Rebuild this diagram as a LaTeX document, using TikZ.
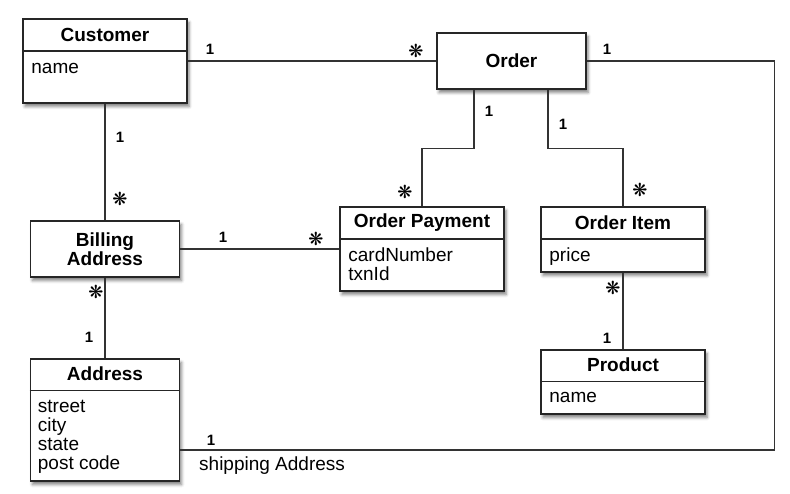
\documentclass[tikz,border=0pt]{standalone}
\usepackage{fontspec}
\setmainfont{Liberation Sans}
\newfontfamily\dingfont{DejaVu Sans}
\usetikzlibrary{shadows.blur}
\begin{document}
\begin{tikzpicture}[x=1pt,y=-1pt,line join=miter]
  \tikzstyle{classbox}=[draw=black!85,line width=1.6pt,fill=white,inner sep=0pt,
    blur shadow={shadow xshift=2pt,shadow yshift=-3.5pt,shadow blur radius=3pt,shadow opacity=50}]
  \tikzstyle{divider}=[draw=black!85,line width=1.4pt]
  \tikzstyle{title}=[font=\fontsize{19}{19}\selectfont\bfseries,align=center,inner sep=0pt]
  \tikzstyle{attr}=[font=\fontsize{19}{19}\selectfont,align=left,anchor=north west,inner sep=0pt,execute at begin node=\strut]
  \tikzstyle{link}=[draw=black!80,line width=1.3pt]
  \tikzstyle{one}=[font=\fontsize{15}{15}\selectfont\bfseries,inner sep=0pt]
  \tikzstyle{many}=[font=\dingfont\fontsize{18}{18}\selectfont,inner sep=0pt]
  \useasboundingbox (0,0) rectangle (790,494);
  % classes
  \node[classbox,minimum width=164pt,minimum height=84pt] (Customer) at (105,61) {};
  \node[classbox,minimum width=149pt,minimum height=56pt] (Order) at (511.5,61) {};
  \node[classbox,minimum width=149pt,minimum height=56pt] (Billing) at (105,249) {};
  \node[classbox,minimum width=164pt,minimum height=84pt] (Payment) at (422,249) {};
  \node[classbox,minimum width=164pt,minimum height=65pt] (Item) at (623,239.5) {};
  \node[classbox,minimum width=164pt,minimum height=64pt] (Product) at (623,382) {};
  \node[classbox,minimum width=149pt,minimum height=122pt] (Address) at (105,420) {};
  % compartments
  \draw[divider] ([yshift=-33pt]Customer.north west) -- ([yshift=-33pt]Customer.north east);
  \draw[divider] ([yshift=-33pt]Payment.north west) -- ([yshift=-33pt]Payment.north east);
  \draw[divider] ([yshift=-33pt]Item.north west) -- ([yshift=-33pt]Item.north east);
  \draw[divider] ([yshift=-32pt]Product.north west) -- ([yshift=-32pt]Product.north east);
  \draw[divider] ([yshift=-32pt]Address.north west) -- ([yshift=-32pt]Address.north east);
  % names
  \node[title] (Customer_t) at ([yshift=-16.5pt]Customer.north) {Customer};
  \node[title] (Order_t) at (Order.center) {Order};
  \node[title] (Billing_t) at (Billing.center) {Billing\\Address};
  \node[title] (Payment_t) at ([yshift=-16.5pt]Payment.north) {Order Payment};
  \node[title] (Item_t) at ([yshift=-16.5pt]Item.north) {Order Item};
  \node[title] (Product_t) at ([yshift=-16pt]Product.north) {Product};
  \node[title] (Address_t) at ([yshift=-16pt]Address.north) {Address};
  % attributes
  \node[attr] (Customer_a) at ([xshift=9pt,yshift=-42pt]Customer.north west) {name};
  \node[attr] (Payment_a) at ([xshift=9pt,yshift=-41pt]Payment.north west) {cardNumber\\txnId};
  \node[attr] (Item_a) at ([xshift=9pt,yshift=-41pt]Item.north west) {price};
  \node[attr] (Product_a) at ([xshift=9pt,yshift=-40pt]Product.north west) {name};
  \node[attr] (Address_a) at ([xshift=8pt,yshift=-42pt]Address.north west) {street\\city\\state\\post code};
  % associations
  \draw[link] (Customer.east) -- (Order.west);
  \draw[link] (Customer.south) -- (Billing.north);
  \draw[link] (Billing.east) -- (Payment.west);
  \draw[link] (Billing.south) -- (Address.north);
  \draw[link] ([xshift=-37.5pt]Order.south) -- ++(0,59) -| (Payment.north);
  \draw[link] ([xshift=36.5pt]Order.south) -- ++(0,59) -| (Item.north);
  \draw[link] (Item.south) -- (Product.north);
  \draw[link] (Order.east) -- ++(188,0) |- ([yshift=-30pt]Address.east);
  % multiplicities
  \node[one] (m_1) at (210,49) {1};
  \node[many] (m_2) at (416,51) {❋};
  \node[one] (m_3) at (607,49) {1};
  \node[one] (m_4) at (120,137) {1};
  \node[many] (m_5) at (120,199) {❋};
  \node[one] (m_6) at (489,111) {1};
  \node[many] (m_7) at (405,192) {❋};
  \node[one] (m_8) at (563,124) {1};
  \node[many] (m_9) at (640,190) {❋};
  \node[one] (m_10) at (223,237) {1};
  \node[many] (m_11) at (316,239) {❋};
  \node[many] (m_12) at (96,292) {❋};
  \node[one] (m_13) at (89,337) {1};
  \node[many] (m_14) at (613,288) {❋};
  \node[one] (m_15) at (607,338) {1};
  \node[one] (m_16) at (211,440) {1};
  \node[font=\fontsize{19}{19}\selectfont,anchor=base west,inner sep=0pt] (ship) at (199,470) {shipping Address};
\end{tikzpicture}
\end{document}
